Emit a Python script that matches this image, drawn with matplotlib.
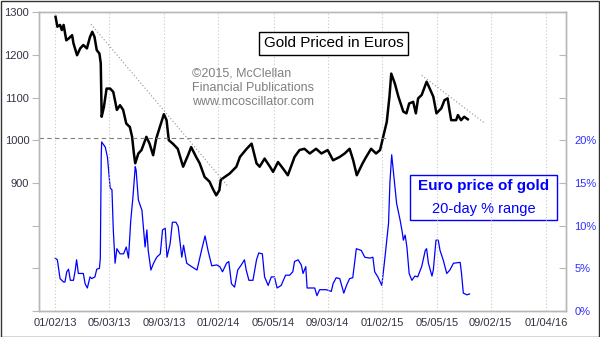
import matplotlib
matplotlib.use('Agg')
import matplotlib.pyplot as plt
import matplotlib.dates as mdates
from matplotlib.patches import Rectangle
import pandas as pd

plt.rcParams['font.family'] = ['Liberation Sans', 'DejaVu Sans']

# Gold priced in euros
gold_dates = [
    "2013-01-03", "2013-01-07", "2013-01-13", "2013-01-17", "2013-01-21", "2013-01-27",
    "2013-02-01", "2013-02-09", "2013-02-12", "2013-02-20", "2013-02-27", "2013-03-06",
    "2013-03-14", "2013-03-21", "2013-03-26", "2013-03-31", "2013-04-05", "2013-04-11",
    "2013-04-14", "2013-04-16", "2013-04-21", "2013-04-27", "2013-05-05", "2013-05-12",
    "2013-05-20", "2013-05-27", "2013-06-03", "2013-06-10", "2013-06-18", "2013-06-23",
    "2013-06-27", "2013-06-30", "2013-07-07", "2013-07-14", "2013-07-25", "2013-08-01",
    "2013-08-09", "2013-08-16", "2013-08-24", "2013-09-02", "2013-09-08", "2013-09-13",
    "2013-09-22", "2013-10-03", "2013-10-15", "2013-10-26", "2013-11-02", "2013-11-13",
    "2013-11-21", "2013-12-02", "2013-12-13", "2013-12-20", "2013-12-28", "2014-01-04",
    "2014-01-07", "2014-01-16", "2014-01-27", "2014-02-11", "2014-02-19", "2014-03-06",
    "2014-03-17", "2014-03-28", "2014-04-04", "2014-04-15", "2014-04-27", "2014-05-04",
    "2014-05-15", "2014-05-26", "2014-06-06", "2014-06-21", "2014-07-02", "2014-07-13",
    "2014-07-25", "2014-08-08", "2014-08-20", "2014-09-03", "2014-09-15", "2014-09-30",
    "2014-10-11", "2014-10-22", "2014-10-30", "2014-11-07", "2014-11-20", "2014-11-28",
    "2014-12-09", "2014-12-20", "2014-12-29", "2015-01-05", "2015-01-13", "2015-01-19",
    "2015-01-23", "2015-01-31", "2015-02-08", "2015-02-19", "2015-02-26", "2015-03-04",
    "2015-03-13", "2015-03-19", "2015-03-24", "2015-04-01", "2015-04-12", "2015-04-19",
    "2015-04-27", "2015-05-04", "2015-05-15", "2015-05-22", "2015-05-29", "2015-06-02",
    "2015-06-06", "2015-06-17", "2015-06-21", "2015-06-28", "2015-07-05", "2015-07-13",
]
gold_price = [
    1289, 1266, 1270, 1258, 1270, 1234,
    1238, 1246, 1227, 1199, 1215, 1223,
    1215, 1242, 1254, 1242, 1211, 1203,
    1180, 1055, 1078, 1121, 1121, 1113,
    1071, 1082, 1071, 1039, 1031, 1008,
    969, 946, 969, 977, 1008, 992,
    965, 1004, 1031, 1061, 1047, 1000,
    992, 980, 938, 965, 984, 961,
    946, 914, 903, 887, 871, 883,
    907, 914, 922, 938, 961, 980,
    992, 946, 938, 957, 938, 926,
    949, 934, 918, 961, 977, 980,
    969, 980, 969, 977, 953, 961,
    969, 980, 953, 918, 946, 961,
    980, 969, 977, 1008, 1043, 1102,
    1156, 1133, 1102, 1067, 1063, 1086,
    1090, 1063, 1098, 1106, 1137, 1121,
    1102, 1063, 1075, 1094, 1098, 1071,
    1047, 1047, 1059, 1047, 1055, 1049,
]

# 20-day % range of the euro gold price
range_dates = [
    "2013-01-02", "2013-01-07", "2013-01-13", "2013-01-21", "2013-01-24", "2013-01-28",
    "2013-02-01", "2013-02-05", "2013-02-12", "2013-02-16", "2013-02-19", "2013-02-23",
    "2013-03-06", "2013-03-10", "2013-03-15", "2013-03-21", "2013-03-25", "2013-04-01",
    "2013-04-05", "2013-04-11", "2013-04-13", "2013-04-15", "2013-04-16", "2013-04-24",
    "2013-04-29", "2013-05-05", "2013-05-09", "2013-05-12", "2013-05-16", "2013-05-20",
    "2013-05-27", "2013-06-04", "2013-06-10", "2013-06-15", "2013-06-20", "2013-06-25",
    "2013-06-30", "2013-07-02", "2013-07-07", "2013-07-15", "2013-07-22", "2013-07-26",
    "2013-07-29", "2013-08-04", "2013-08-10", "2013-08-17", "2013-08-25", "2013-08-30",
    "2013-09-05", "2013-09-09", "2013-09-16", "2013-09-21", "2013-09-29", "2013-10-04",
    "2013-10-12", "2013-10-16", "2013-10-23", "2013-11-03", "2013-11-15", "2013-11-26",
    "2013-12-03", "2013-12-10", "2013-12-18", "2013-12-29", "2014-01-05", "2014-01-11",
    "2014-01-20", "2014-01-25", "2014-01-31", "2014-02-07", "2014-02-14", "2014-02-22",
    "2014-03-01", "2014-03-05", "2014-03-11", "2014-03-20", "2014-03-28", "2014-04-02",
    "2014-04-10", "2014-04-15", "2014-04-23", "2014-04-30", "2014-05-07", "2014-05-13",
    "2014-05-22", "2014-06-01", "2014-06-10", "2014-06-17", "2014-06-21", "2014-06-29",
    "2014-07-06", "2014-07-10", "2014-07-16", "2014-07-19", "2014-08-05", "2014-08-10",
    "2014-08-16", "2014-08-31", "2014-09-11", "2014-09-15", "2014-09-22", "2014-09-30",
    "2014-10-09", "2014-10-15", "2014-10-22", "2014-10-29", "2014-11-06", "2014-11-17",
    "2014-11-25", "2014-12-06", "2014-12-13", "2014-12-17", "2014-12-24", "2015-01-02",
    "2015-01-09", "2015-01-17", "2015-01-20", "2015-01-24", "2015-01-29", "2015-02-04",
    "2015-02-12", "2015-02-17", "2015-02-19", "2015-02-23", "2015-02-27", "2015-03-04",
    "2015-03-10", "2015-03-17", "2015-03-23", "2015-04-01", "2015-04-09", "2015-04-12",
    "2015-04-16", "2015-04-24", "2015-04-27", "2015-05-03", "2015-05-08", "2015-05-12",
    "2015-05-19", "2015-05-27", "2015-06-03", "2015-06-11", "2015-06-26", "2015-06-29",
    "2015-07-03", "2015-07-11", "2015-07-17",
]
range_pct = [
    6.2, 6.0, 3.8, 3.4, 3.4, 4.6,
    4.9, 3.6, 3.6, 4.8, 6.0, 4.4,
    4.4, 3.2, 2.7, 4.0, 3.8, 4.0,
    4.9, 5.0, 6.2, 18.0, 19.8, 19.2,
    18.0, 14.4, 14.2, 9.5, 5.6, 7.3,
    6.7, 6.7, 7.5, 6.2, 10.6, 13.4,
    16.9, 16.5, 13.0, 11.8, 7.5, 9.5,
    7.1, 4.8, 5.6, 6.3, 6.7, 9.5,
    9.7, 6.3, 7.9, 10.4, 10.4, 9.9,
    6.3, 7.7, 5.6, 5.2, 4.8, 7.3,
    8.8, 7.0, 5.3, 5.4, 5.2, 4.6,
    5.6, 5.8, 3.2, 2.8, 4.8, 5.4,
    6.0, 4.8, 3.6, 3.6, 6.0, 6.8,
    6.7, 4.0, 3.0, 4.0, 4.0, 2.7,
    3.0, 4.2, 4.2, 4.6, 5.8, 6.0,
    5.4, 4.4, 5.2, 2.7, 2.7, 1.8,
    2.5, 2.5, 2.3, 3.2, 3.9, 3.8,
    2.1, 3.0, 3.8, 3.9, 7.3, 7.1,
    6.3, 6.2, 6.3, 4.6, 4.0, 3.0,
    6.3, 10.3, 15.0, 18.3, 15.7, 12.6,
    10.6, 9.1, 8.3, 8.9, 7.5, 4.4,
    3.6, 4.1, 4.0, 5.2, 7.1, 7.3,
    5.6, 4.1, 4.8, 8.3, 8.3, 7.1,
    6.0, 4.4, 4.8, 5.6, 5.7, 4.4,
    2.1, 1.9, 2.0,
]

# trend lines and reference level
trend1_dates = ["2013-03-23", "2014-01-24"]
trend1_vals = [1272, 891]
trend2_dates = ["2015-04-01", "2015-08-21"]
trend2_vals = [1152, 1039]
ref_level = 1005
ref_dates = ["2012-11-27", "2015-01-16"]

tick_dates = ["2013-01-02", "2013-05-03", "2013-09-03", "2014-01-02", "2014-05-05",
              "2014-09-03", "2015-01-02", "2015-05-05", "2015-09-02", "2016-01-04"]

gd = pd.to_datetime(gold_dates)
rd = pd.to_datetime(range_dates)
td = pd.to_datetime(tick_dates)

fig = plt.figure(figsize=(6, 3.37), dpi=100)
ax = fig.add_axes([0.065, 0.077, 0.878, 0.887])
ax2 = ax.twinx()
ax.set_zorder(ax2.get_zorder() + 1)
ax.patch.set_visible(False)

spine_col = '#b8b8b8'
for a in (ax, ax2):
    for s in a.spines.values():
        s.set_color(spine_col)
        s.set_linewidth(1)

# blue range line
ax2.plot(rd, range_pct, color='#0000ff', lw=0.9)
ax2.set_ylim(0, 35)
ax2.set_yticks(range(0, 36, 5))
ax2.set_yticklabels(['0%', '5%', '10%', '15%', '20%', '', '', ''])
ax2.tick_params(axis='y', direction='in', length=5, color=spine_col,
                labelcolor='#3030ff', labelsize=8, pad=6)

# gold price
ax.plot(gd, gold_price, color='black', lw=1.8)
ax.plot(pd.to_datetime(trend1_dates), trend1_vals, color='#909090', lw=0.8, ls=(0, (1, 2)))
ax.plot(pd.to_datetime(trend2_dates), trend2_vals, color='#909090', lw=0.8, ls=(0, (1, 2)))
ax.plot(pd.to_datetime(ref_dates), [ref_level, ref_level], color='#808080', lw=0.8, ls=(0, (4, 3)))

ax.set_ylim(600, 1300)
ax.set_yticks(range(600, 1301, 100))
ax.set_yticklabels(['', '', '', '900', '1000', '1100', '1200', '1300'])
ax.tick_params(axis='y', direction='out', length=5, color=spine_col,
               labelcolor='#333344', labelsize=8, pad=2)

ax.set_xlim(pd.Timestamp("2012-11-27"), pd.Timestamp("2016-02-17"))
ax.set_xticks(td)
ax.xaxis.set_major_formatter(mdates.DateFormatter('%m/%d/%y'))
ax.tick_params(axis='x', length=0, labelcolor='#333344', labelsize=8, pad=5)
ax.grid(axis='x', color='#c8c8c8', ls=(0, (1, 2)), lw=0.8)

# annotations
ax.text(0.559, 0.896, 'Gold Priced in Euros', transform=ax.transAxes, ha='center', va='center',
        fontsize=11, color='black',
        bbox=dict(boxstyle='square,pad=0.3', fc='white', ec='black', lw=1))
ax.text(0.29, 0.815, '©2015, McClellan\nFinancial Publications\nwww.mcoscillator.com',
        transform=ax.transAxes, ha='left', va='top', fontsize=9, color='#808080',
        linespacing=1.25)
ax.text(0.8435, 0.418, 'Euro price of gold', transform=ax.transAxes, ha='center', va='center',
        fontsize=11, fontweight='bold', color='#0000ff')
ax.text(0.8435, 0.341, '20-day % range', transform=ax.transAxes, ha='center', va='center',
        fontsize=10.5, color='#0000ff')
ax.add_patch(Rectangle((0.704, 0.304), 0.279, 0.151, transform=ax.transAxes,
                       fc='none', ec='#0000ff', lw=1))

fig.patches.append(Rectangle((0.001, 0.001), 0.998, 0.997, transform=fig.transFigure,
                             fill=False, ec='#333333', lw=1))

fig.savefig('out.png', dpi=100)
